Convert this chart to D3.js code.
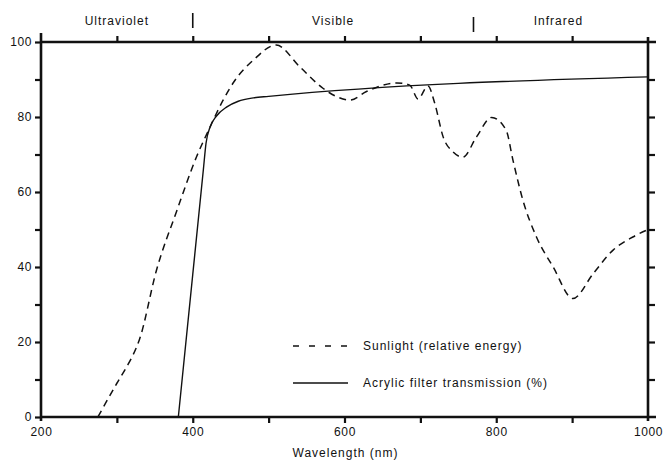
<!DOCTYPE html>
<html>
<head>
<meta charset="utf-8">
<script src="https://cdn.jsdelivr.net/npm/d3@7"></script>
<style>
  body { margin: 0; background: #fff; }
  text { font-family: "Liberation Sans", Arial, sans-serif; font-size: 12px; fill: #111; letter-spacing: 1px; }
</style>
</head>
<body>
<div id="graf"></div>
<script>
// datos
const sunWl  = [275, 300, 313, 320, 330, 352, 379, 405, 423, 440, 455, 480, 510, 541, 572, 590, 607, 629, 651, 669, 686, 697, 710, 719, 730, 743, 756, 774, 794, 813, 822, 835, 853, 875, 901, 928, 954, 980, 1000];
const sunVal = [0, 9, 13.4, 16, 20.8, 39, 55, 69.4, 77.4, 84.5, 89.6, 95.2, 99.2, 93.4, 87.6, 85.4, 84.5, 86.8, 88.5, 89.1, 88.5, 84.8, 88.3, 83.6, 74.7, 70.7, 69.3, 74.7, 79.9, 76.5, 68.5, 57.9, 48, 40, 31.6, 38.3, 44.5, 48, 50];

const acrWl  = [381, 400, 414, 417.5, 423, 431, 445, 460, 480, 500, 1000];
const acrVal = [0, 38, 66, 73, 77.4, 80.2, 82.7, 84.2, 85.1, 85.5, 90.7];

const xTicks = [200, 400, 600, 800, 1000];
const yTicks = [0, 20, 40, 60, 80, 100];
const regions = [
  { name: "Ultraviolet", at: 300 },
  { name: "Visible", at: 585 },
  { name: "Infrared", at: 882 }
];
const regionLimits = [400, 770];

const legendItems = [
  { name: "Sunlight (relative energy)", dash: "6,10" },
  { name: "Acrylic filter transmission (%)", dash: null }
];

// dimensiones
const totalW = 670, totalH = 466;
const margin = { top: 42, right: 22, bottom: 49, left: 41 };
const w = totalW - margin.left - margin.right;
const h = totalH - margin.top - margin.bottom;

const svg = d3.select("#graf").append("svg")
  .attr("width", totalW)
  .attr("height", totalH);

const g = svg.append("g")
  .attr("transform", `translate(${margin.left},${margin.top})`);

const x = d3.scaleLinear().domain([200, 1000]).range([0, w]);
const y = d3.scaleLinear().domain([0, 100]).range([h, 0]);

// ejes
const minorX = d3.range(300, 1000, 100);
const minorY = d3.range(10, 100, 10);

g.append("g")
  .attr("transform", `translate(0,${h})`)
  .call(d3.axisBottom(x).tickValues(minorX).tickSize(6).tickFormat(""))
  .call(a => a.select(".domain").remove());
g.append("g")
  .attr("transform", `translate(0,${h})`)
  .call(d3.axisBottom(x).tickValues(xTicks).tickSize(0).tickPadding(10).tickFormat(d3.format("d")))
  .call(a => a.select(".domain").remove());

g.append("g")
  .call(d3.axisTop(x).tickValues(minorX).tickSize(6).tickFormat(""))
  .call(a => a.select(".domain").remove());

g.append("g")
  .call(d3.axisLeft(y).tickValues(d3.range(0, 101, 10)).tickSize(6)
    .tickFormat(d => yTicks.includes(d) ? d : "").tickPadding(3))
  .call(a => a.select(".domain").remove());

g.append("g")
  .attr("transform", `translate(${w},0)`)
  .call(d3.axisRight(y).tickValues(minorY).tickSize(7).tickFormat(""))
  .call(a => a.select(".domain").remove());

g.selectAll(".tick line").attr("stroke", "#111").attr("stroke-width", 2.2);
g.selectAll(".tick text").attr("fill", "#111").style("font-size", "12px")
  .style("font-family", "'Liberation Sans', Arial, sans-serif")
  .style("letter-spacing", "0.6px");

// marco
const frame = g.append("g").attr("stroke", "#111").attr("stroke-width", 2.6).attr("fill", "none");
frame.append("line").attr("x1", 0).attr("x2", w + 8).attr("y1", 0).attr("y2", 0);
frame.append("line").attr("x1", 0).attr("x2", w + 8).attr("y1", h).attr("y2", h);
frame.append("line").attr("x1", 0).attr("x2", 0).attr("y1", -9).attr("y2", h + 4);
frame.append("line").attr("x1", w).attr("x2", w).attr("y1", -5).attr("y2", h + 4);

// regiones del espectro
g.selectAll(".region").data(regions).enter().append("text")
  .attr("class", "region")
  .attr("x", d => x(d.at))
  .attr("y", -17)
  .attr("text-anchor", "middle")
  .text(d => d.name);

g.selectAll(".limit").data(regionLimits).enter().append("line")
  .attr("class", "limit")
  .attr("x1", d => x(d)).attr("x2", d => x(d))
  .attr("y1", (d, i) => -29 + i * 4).attr("y2", (d, i) => -14 + i * 4)
  .attr("stroke", "#111").attr("stroke-width", 1.6);

// curvas
const line = d3.line()
  .x(d => x(d[0]))
  .y(d => y(d[1]))
  .curve(d3.curveMonotoneX);

g.append("path")
  .datum(sunWl.map((d, i) => [d, sunVal[i]]))
  .attr("d", line)
  .attr("fill", "none")
  .attr("stroke", "#111")
  .attr("stroke-width", 1.5)
  .attr("stroke-dasharray", "7,5");

g.append("path")
  .datum(acrWl.map((d, i) => [d, acrVal[i]]))
  .attr("d", line)
  .attr("fill", "none")
  .attr("stroke", "#111")
  .attr("stroke-width", 1.4);

// leyenda
const legend = g.append("g").attr("transform", `translate(${293 - margin.left},${346 - margin.top})`);
const item = legend.selectAll("g").data(legendItems).enter().append("g")
  .attr("transform", (d, i) => `translate(0,${i * 37})`);
item.append("line")
  .attr("x1", 0).attr("x2", 55).attr("y1", 0).attr("y2", 0)
  .attr("stroke", "#111").attr("stroke-width", 1.4)
  .attr("stroke-dasharray", d => d.dash);
item.append("text")
  .attr("x", 70).attr("y", 4)
  .text(d => d.name);

// titulo del eje
svg.append("text")
  .attr("x", margin.left + w / 2 + 1)
  .attr("y", 457)
  .attr("text-anchor", "middle")
  .text("Wavelength (nm)");
</script>
</body>
</html>
